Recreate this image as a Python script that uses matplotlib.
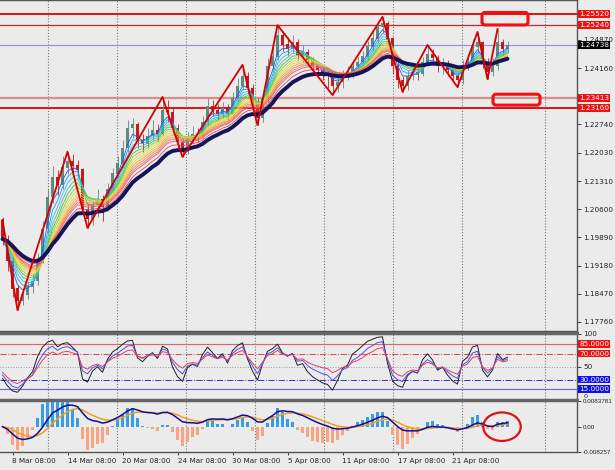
import numpy as np
import pandas as pd
import matplotlib
matplotlib.use("Agg")
import matplotlib.pyplot as plt
from matplotlib.patches import FancyBboxPatch, Ellipse
from matplotlib.transforms import blended_transform_factory

# ---- price data (one bar per entry) ----
first_open = 1.2033
closes = [1.1985, 1.1930, 1.1860, 1.1830, 1.1845, 1.1865, 1.1880, 1.1935, 1.2010, 1.2090,
          1.2140, 1.2120, 1.2165, 1.2180, 1.2170, 1.2160, 1.2060, 1.2035, 1.2070, 1.2085,
          1.2065, 1.2110, 1.2150, 1.2175, 1.2215, 1.2265, 1.2275, 1.2235, 1.2225, 1.2245,
          1.2260, 1.2250, 1.2310, 1.2305, 1.2265, 1.2230, 1.2205, 1.2240, 1.2250, 1.2245,
          1.2280, 1.2320, 1.2310, 1.2300, 1.2315, 1.2300, 1.2340, 1.2370, 1.2395, 1.2365,
          1.2330, 1.2290, 1.2340, 1.2420, 1.2445, 1.2500, 1.2475, 1.2465, 1.2480, 1.2450,
          1.2455, 1.2435, 1.2420, 1.2410, 1.2400, 1.2395, 1.2370, 1.2380, 1.2395, 1.2400,
          1.2420, 1.2430, 1.2445, 1.2470, 1.2490, 1.2520, 1.2530, 1.2490, 1.2420, 1.2385,
          1.2370, 1.2395, 1.2405, 1.2400, 1.2430, 1.2450, 1.2440, 1.2420, 1.2425, 1.2410,
          1.2395, 1.2385, 1.2420, 1.2430, 1.2470, 1.2480, 1.2430, 1.2405, 1.2420, 1.2480,
          1.2465, 1.24738]
highs = [1.2040, 1.1995, 1.1940, 1.1870, 1.1862, 1.1880, 1.1900, 1.1950, 1.2030, 1.2110,
         1.2170, 1.2160, 1.2195, 1.2205, 1.2200, 1.2185, 1.2165, 1.2075, 1.2085, 1.2110,
         1.2095, 1.2125, 1.2165, 1.2195, 1.2235, 1.2285, 1.2290, 1.2280, 1.2250, 1.2265,
         1.2285, 1.2275, 1.2343, 1.2335, 1.2315, 1.2275, 1.2240, 1.2255, 1.2270, 1.2265,
         1.2295, 1.2340, 1.2335, 1.2325, 1.2330, 1.2325, 1.2355, 1.2390, 1.2424, 1.2405,
         1.2375, 1.2340, 1.2350, 1.2440, 1.2470, 1.2524, 1.2510, 1.2495, 1.2500, 1.2490,
         1.2475, 1.2465, 1.2445, 1.2430, 1.2420, 1.2410, 1.2400, 1.2395, 1.2410, 1.2420,
         1.2435, 1.2445, 1.2460, 1.2485, 1.2510, 1.2535, 1.2545, 1.2535, 1.2495, 1.2430,
         1.2395, 1.2410, 1.2420, 1.2425, 1.2445, 1.2474, 1.2465, 1.2450, 1.2440, 1.2435,
         1.2420, 1.2405, 1.2435, 1.2450, 1.2490, 1.2507, 1.2485, 1.2440, 1.2440, 1.2514,
         1.2490, 1.2485]
lows = [1.1970, 1.1905, 1.1840, 1.1806, 1.1818, 1.1835, 1.1850, 1.1870, 1.1925, 1.2000,
        1.2075, 1.2095, 1.2110, 1.2150, 1.2150, 1.2140, 1.2045, 1.2013, 1.2020, 1.2040,
        1.2030, 1.2055, 1.2100, 1.2140, 1.2165, 1.2205, 1.2240, 1.2215, 1.2205, 1.2215,
        1.2235, 1.2230, 1.2245, 1.2280, 1.2250, 1.2215, 1.2192, 1.2200, 1.2225, 1.2230,
        1.2240, 1.2270, 1.2295, 1.2285, 1.2290, 1.2285, 1.2295, 1.2330, 1.2360, 1.2350,
        1.2315, 1.2272, 1.2280, 1.2330, 1.2410, 1.2435, 1.2460, 1.2450, 1.2455, 1.2435,
        1.2430, 1.2420, 1.2400, 1.2390, 1.2385, 1.2365, 1.2348, 1.2355, 1.2365, 1.2385,
        1.2390, 1.2410, 1.2420, 1.2435, 1.2460, 1.2480, 1.2505, 1.2475, 1.2400, 1.2365,
        1.2356, 1.2360, 1.2385, 1.2385, 1.2395, 1.2420, 1.2425, 1.2405, 1.2400, 1.2395,
        1.2380, 1.2368, 1.2375, 1.2410, 1.2420, 1.2455, 1.2415, 1.2388, 1.2395, 1.2410,
        1.2450, 1.2455]

zz_bars = [0, 3, 13, 17, 32, 36, 48, 51, 55, 66, 76, 80, 85, 91, 95, 97, 99]
zz_prices = [1.2033, 1.1806, 1.2205, 1.2013, 1.2343, 1.2192, 1.2424, 1.2272, 1.2524,
             1.2348, 1.2545, 1.2356, 1.2474, 1.2368, 1.2507, 1.2388, 1.2514]

levels = [1.25520, 1.25240, 1.24738, 1.23413, 1.23160]
level_colors = ['#e01010', '#e02020', '#8c8cf0', '#e08a8a', '#e01010']
level_widths = [1.4, 0.9, 0.8, 1.6, 1.4]
level_label_bg = ['#ee1111', '#ee1111', '#000000', '#ee1111', '#ee1111']

price_ticks = [1.17760, 1.18470, 1.19180, 1.19890, 1.20600, 1.21310, 1.22030,
               1.22740, 1.23450, 1.24160, 1.24870, 1.25580]
hidden_ticks = [1.23450, 1.25580]   # covered by the level labels

date_bars = [2, 13, 24, 35, 46, 57, 68, 79, 90]
date_labels = ['8 Mar 08:00', '14 Mar 08:00', '20 Mar 08:00', '24 Mar 08:00', '30 Mar 08:00',
               '5 Apr 08:00', '11 Apr 08:00', '17 Apr 08:00', '21 Apr 08:00']
grid_bars = [9.1, 22.9, 36.7, 50.5, 64.3, 78.1, 91.9, 108.5]

# boxes: (bar_start, bar_end, price_low, price_high)
boxes = [(95.9, 105.1, 1.25245, 1.25560), (98.1, 107.5, 1.23225, 1.23500)]

rsi_levels = [85, 70, 50, 30, 15]
rsi_periods = [4, 6, 9]
macd_top, macd_bottom = 0.0083781, -0.008257

rainbow_spans = [3, 4, 5, 6, 7, 8, 9, 10, 11, 12, 13, 14, 16]
rainbow_colors = ['#2060e0', '#2a9af0', '#30c4e0', '#3cc8a0', '#50c040', '#98d030',
                  '#d8e040', '#f0d040', '#f0b030', '#f09040', '#f07060', '#e85a70', '#e04860']

# ---- derived series ----
close = pd.Series(closes)
opens = [first_open] + closes[:-1]
x = np.arange(len(closes))


def rsi(values, n):
    # Wilder RSI, seeded neutral so the first bars do not pin to 0/100
    d = np.diff([first_open] + list(values))
    seed = np.mean(np.abs(d)) / 2
    up, dn = seed, seed
    out = []
    for v in d:
        up = (up * (n - 1) + max(v, 0)) / n
        dn = (dn * (n - 1) + max(-v, 0)) / n
        out.append(100 - 100 / (1 + up / dn))
    return np.array(out)


macd = close.ewm(span=6, adjust=False).mean() - close.ewm(span=14, adjust=False).mean()
signal = macd.ewm(span=5, adjust=False).mean()
hist = (macd - signal) * 4.2

BG = '#ebebeb'
plt.rcParams['font.family'] = 'DejaVu Sans'
fig = plt.figure(figsize=(6.15, 4.70), dpi=100, facecolor=BG)
W = 577 / 615
ax = fig.add_axes([0, 139 / 470, W, 331 / 470])
ax_rsi = fig.add_axes([0, 71 / 470, W, 65 / 470], sharex=ax)
ax_m = fig.add_axes([0, 18 / 470, W, 51 / 470], sharex=ax)

for a in (ax, ax_rsi, ax_m):
    a.set_facecolor(BG)
    for sp in a.spines.values():
        sp.set_color('#555555')
        sp.set_linewidth(1.0)
    a.spines['left'].set_visible(False)
    a.yaxis.tick_right()
    a.tick_params(axis='y', direction='out', length=3, width=0.6, labelsize=5.2, pad=1.5,
                  colors='#222222')
    a.tick_params(axis='x', length=0, labelbottom=False)
    for g in grid_bars:
        a.axvline(g, color='#777777', lw=0.8, ls=(0, (1, 1.6)), zorder=1)

ax.set_xlim(-0.5, 114.9)

# ---- main price panel ----
ax.set_ylim(1.17532, 1.25874)
ax.set_yticks(price_ticks)
ax.set_yticklabels(['' if t in hidden_ticks else f'{t:.5f}' for t in price_ticks])

for lv, c, w in zip(levels, level_colors, level_widths):
    ax.axhline(lv, color=c, lw=w, zorder=2)

for i in x:
    o, c_, h, l = opens[i], closes[i], highs[i], lows[i]
    col = '#5f8a80' if c_ >= o else '#c81818'
    ax.vlines(i, l, h, color=col, lw=0.6, zorder=3)
    ax.bar(i, abs(c_ - o) + 0.00004, bottom=min(o, c_), width=0.55, color=col, lw=0, zorder=3)

for span, col in zip(rainbow_spans, rainbow_colors):
    ax.plot(x, close.ewm(span=span, adjust=False).mean(), color=col, lw=0.6, zorder=4)
ax.plot(x, close.ewm(span=19, adjust=False).mean(), color='#14145a', lw=2.8, zorder=5,
        solid_capstyle='round')
ax.plot(zz_bars, zz_prices, color='#d40000', lw=1.3, zorder=6)

for b0, b1, p0, p1 in boxes:
    ax.add_patch(FancyBboxPatch((b0, p0), b1 - b0, p1 - p0,
                                boxstyle='round,pad=0,rounding_size=0.6',
                                mutation_aspect=0.00126, fill=False, ec='#ee1111', lw=2.2,
                                zorder=7))

trans = blended_transform_factory(ax.transAxes, ax.transData)
for lv, bg in zip(levels, level_label_bg):
    ax.text(1.004, lv, f'{lv:.5f}', transform=trans, fontsize=5.2, color='white',
            va='center', ha='left', clip_on=False, zorder=10,
            bbox=dict(boxstyle='square,pad=0.15', fc=bg, ec='none'))

# ---- RSI panel ----
ax_rsi.set_ylim(0, 100)
ax_rsi.set_yticks([50, 100])
ax_rsi.set_yticklabels(['50', '100'])
ax_rsi.axhline(85, color='#e06070', lw=0.8)
ax_rsi.axhline(70, color='#e04050', lw=0.7, ls='-.')
ax_rsi.axhline(50, color='#999999', lw=0.7, ls=':')
ax_rsi.axhline(30, color='#3030d0', lw=0.7, ls='-.')
ax_rsi.axhline(15, color='#6060ff', lw=0.8)
for n, col in zip(rsi_periods, ['#202020', '#5050e0', '#e04060']):
    ax_rsi.plot(x, rsi(closes, n), color=col, lw=0.7, zorder=4)
rtrans = blended_transform_factory(ax_rsi.transAxes, ax_rsi.transData)
for lv in rsi_levels:
    if lv == 50:
        continue
    bg = '#ee1111' if lv > 50 else '#1010ee'
    ax_rsi.text(1.004, lv, f'{lv:.4f}', transform=rtrans, fontsize=5.2, color='white',
                va='center', ha='left', clip_on=False, zorder=10,
                bbox=dict(boxstyle='square,pad=0.12', fc=bg, ec='none'))
ax_rsi.text(1.012, 4, '0', transform=rtrans, fontsize=4.6, color='#222222',
            va='center', ha='left', clip_on=False)

# ---- MACD panel ----
ax_m.set_ylim(macd_bottom, macd_top)
ax_m.set_yticks([macd_top, 0, macd_bottom])
ax_m.set_yticklabels(['0.0083781', '0.00', '-0.008257'])
ax_m.tick_params(axis='y', pad=1)
for lab in ax_m.get_yticklabels():
    lab.set_fontsize(4.5)
    lab.set_family('Liberation Sans')
ax_m.bar(x, hist.clip(macd_bottom, macd_top), width=0.45,
         color=np.where(hist >= 0, '#3a9be8', '#f8a480'), lw=0, zorder=3)
ax_m.plot(x, signal, color='#f0a020', lw=1.1, zorder=4)
ax_m.plot(x, macd, color='#10109a', lw=1.1, zorder=5)
ax_m.add_patch(Ellipse((99.9, 0.0), 7.5, 0.0093, fill=False, ec='#e01010', lw=1.6, zorder=6))

ax_m.set_xticks(date_bars)
ax_m.set_xticklabels(date_labels)
ax_m.tick_params(axis='x', length=2, width=0.6, direction='out', labelbottom=True,
                 labelsize=5.2, pad=2, colors='#222222')
for lab in ax_m.get_xticklabels():
    lab.set_ha('left')

# panel separators
for yy, lw in ((332.5 / 470, 2.2), (400 / 470, 2.0)):
    fig.add_artist(plt.Line2D([0, W], [1 - yy, 1 - yy], color='#666666', lw=lw))

fig.savefig('out.png', dpi=100, facecolor=BG)
